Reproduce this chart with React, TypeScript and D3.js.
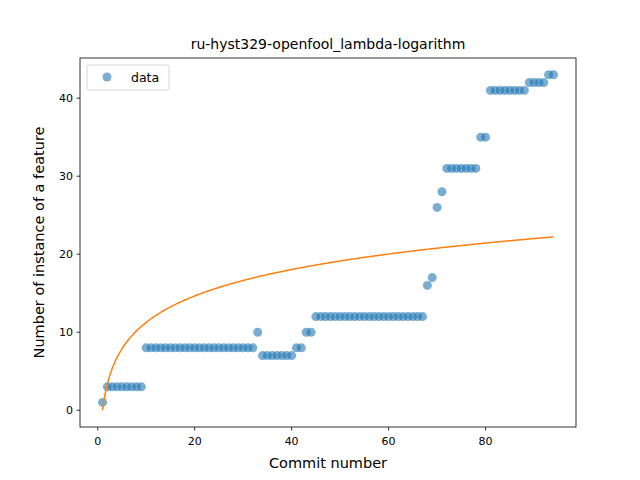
import React from "react";
import * as d3 from "d3";

const runs: [number, number, number][] = [
  [1, 1, 1], [2, 9, 3], [10, 32, 8], [33, 33, 10], [34, 40, 7], [41, 42, 8], [43, 44, 10],
  [45, 67, 12], [68, 68, 16], [69, 69, 17], [70, 70, 26], [71, 71, 28], [72, 78, 31],
  [79, 80, 35], [81, 88, 41], [89, 92, 42], [93, 94, 43],
];
const commits: number[] = [];
const counts: number[] = [];
runs.forEach(([a, b, v]) => { for (let i = a; i <= b; i++) { commits.push(i); counts.push(v); } });
const fitA = 4.89;
const fitB = 0.0;
const xTicks = [0, 20, 40, 60, 80];
const yTicks = [0, 10, 20, 30, 40];

export default function App() {
  const L = 80, R = 576, T = 58, B = 427;
  const x = d3.scaleLinear().domain([-3.65, 98.65]).range([L, R]);
  const y = d3.scaleLinear().domain([-2.15, 45.15]).range([B, T]);
  const fx = d3.range(1, 94.01, 0.25);
  const line = d3.line<number>().x(d => x(d)).y(d => y(fitA * Math.log(d) + fitB))(fx) || "";
  const font = "DejaVu Sans";
  return (
    <svg width={640} height={480} style={{ position: "absolute", left: 0, top: 0 }} fontFamily={font}>
      <rect width={640} height={480} fill="white" />
      {commits.map((c, i) => (
        <circle key={i} cx={x(c)} cy={y(counts[i])} r={4.5} fill="#1f77b4" fillOpacity={0.6} />
      ))}
      <path d={line} fill="none" stroke="#ff7f0e" strokeWidth={1.5} />
      <rect x={L} y={T} width={R - L} height={B - T} fill="none" stroke="black" strokeWidth={0.8} />
      {xTicks.map(t => (
        <g key={t}>
          <line x1={x(t)} x2={x(t)} y1={B} y2={B + 3.5} stroke="black" strokeWidth={0.8} />
          <text x={x(t)} y={B + 18} textAnchor="middle" fontSize={11}>{t}</text>
        </g>
      ))}
      {yTicks.map(t => (
        <g key={t}>
          <line x1={L - 3.5} x2={L} y1={y(t)} y2={y(t)} stroke="black" strokeWidth={0.8} />
          <text x={L - 7} y={y(t) + 4} textAnchor="end" fontSize={11}>{t}</text>
        </g>
      ))}
      <text x={(L + R) / 2} y={468} textAnchor="middle" fontSize={14.5}>Commit number</text>
      <text transform={`translate(44,${(T + B) / 2}) rotate(-90)`} textAnchor="middle" fontSize={14.5}>Number of instance of a feature</text>
      <text x={(L + R) / 2} y={49} textAnchor="middle" fontSize={14}>ru-hyst329-openfool_lambda-logarithm</text>
      <rect x={87} y={65} width={82} height={25} rx={2} fill="white" stroke="#cccccc" strokeWidth={0.8} />
      <circle cx={107} cy={77} r={4.5} fill="#1f77b4" fillOpacity={0.6} />
      <text x={131} y={81.5} fontSize={12.5}>data</text>
    </svg>
  );
}
